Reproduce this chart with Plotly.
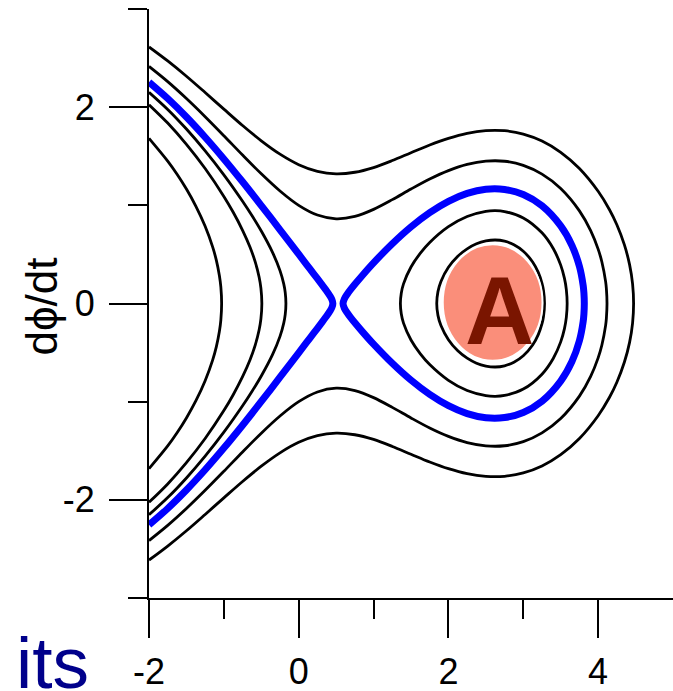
import plotly.graph_objects as go

# Phase portrait of phi'' = sin(phi) - 1/2: upper branches (dphi/dt >= 0) of each orbit.
# The lower branches are the mirror images about dphi/dt = 0.

# Open orbits that come in from the left and turn back before the saddle
PHI_E0 = [-2.0, -1.75, -1.625, -1.5, -1.375, -1.25, -1.15, -1.1, -1.06, -1.04, -1.0297]
V_E0 = [1.683, 1.451, 1.317, 1.166, 0.993, 0.787, 0.577, 0.439, 0.285, 0.166, 0.0]

PHI_E1 = [-2.0, -1.75, -1.5, -1.25, -1.0, -0.875, -0.75, -0.65, -0.58, -0.53, -0.505, -0.4925]
V_E1 = [2.025, 1.838, 1.621, 1.375, 1.091, 0.929, 0.746, 0.573, 0.421, 0.273, 0.157, 0.0]

PHI_E2 = [-2.0, -1.75, -1.5, -1.25, -1.0, -0.75, -0.625, -0.5, -0.35, -0.25, -0.2, -0.18, -0.1709]
V_E2 = [2.152, 1.977, 1.777, 1.555, 1.311, 1.042, 0.896, 0.738, 0.521, 0.335, 0.200, 0.111, 0.0]

# Separatrix: left branch and the loop around the well
PHI_SEP_L = [-2.0, -1.75, -1.5, -1.25, -1.0, -0.75, -0.5, -0.25, 0.0, 0.1, 0.2, 0.3, 0.38, 0.42, 0.445, 0.456]
V_SEP_L = [2.255, 2.088, 1.900, 1.694, 1.473, 1.240, 0.998, 0.751, 0.502, 0.402, 0.302, 0.202, 0.120, 0.074, 0.037, 0.0]

PHI_SEP_R = [0.592, 0.61, 0.65, 0.7, 0.75, 0.85, 1.0, 1.25, 1.5, 1.75, 2.0, 2.25, 2.5, 2.75, 3.0, 3.25, 3.5,
             3.65, 3.75, 3.8, 3.81, 3.815]
V_SEP_R = [0.0, 0.048, 0.097, 0.148, 0.196, 0.286, 0.414, 0.609, 0.781, 0.926, 1.041, 1.122, 1.164, 1.162,
           1.110, 0.995, 0.790, 0.591, 0.378, 0.183, 0.106, 0.0]

# Orbits passing over the saddle and reflecting on the right
PHI_E3 = [-2.0, -1.75, -1.5, -1.25, -1.0, -0.75, -0.5, -0.25, 0.0, 0.25, 0.5, 0.75, 1.0, 1.25, 1.5, 1.75,
          2.0, 2.25, 2.5, 2.75, 3.0, 3.25, 3.5, 3.75, 3.9, 4.0, 4.05, 4.1, 4.11, 4.1184]
V_E3 = [2.415, 2.260, 2.088, 1.903, 1.709, 1.512, 1.321, 1.146, 1.000, 0.901, 0.863, 0.887, 0.959, 1.058,
        1.166, 1.268, 1.354, 1.417, 1.450, 1.449, 1.407, 1.318, 1.172, 0.944, 0.743, 0.554, 0.423, 0.223,
        0.151, 0.0]

PHI_E4 = [-2.0, -1.75, -1.5, -1.25, -1.0, -0.75, -0.5, -0.25, 0.0, 0.25, 0.5, 0.75, 1.0, 1.25, 1.5, 1.75,
          2.0, 2.25, 2.5, 2.75, 3.0, 3.25, 3.5, 3.75, 4.0, 4.15, 4.25, 4.35, 4.42, 4.46, 4.4735]
V_E4 = [2.614, 2.471, 2.315, 2.149, 1.980, 1.813, 1.657, 1.521, 1.414, 1.346, 1.321, 1.337, 1.385, 1.456,
        1.536, 1.615, 1.683, 1.734, 1.761, 1.760, 1.726, 1.655, 1.540, 1.375, 1.143, 0.958, 0.802, 0.599,
        0.396, 0.199, 0.0]

# Closed orbits inside the potential well
PHI_W1 = [1.3584, 1.37, 1.4, 1.5, 1.625, 1.75, 2.0, 2.25, 2.5, 2.625, 2.75, 3.0, 3.25, 3.4, 3.5, 3.55,
          3.575, 3.586]
V_W1 = [0.0, 0.105, 0.200, 0.372, 0.513, 0.622, 0.783, 0.887, 0.939, 0.946, 0.937, 0.872, 0.720, 0.560,
        0.391, 0.256, 0.142, 0.0]

PHI_W2 = [1.8438, 1.86, 1.9, 2.0, 2.125, 2.25, 2.375, 2.5, 2.625, 2.75, 2.875, 3.0, 3.125, 3.2, 3.25, 3.27,
          3.2838]
V_W2 = [0.0, 0.121, 0.225, 0.369, 0.482, 0.557, 0.608, 0.637, 0.647, 0.635, 0.599, 0.533, 0.423, 0.317,
        0.206, 0.132, 0.0]

X_TICKS = [-2, 0, 2, 4]
X_TICK_TEXT = ["-2", "0", "2", "4"]
X_MINOR = [-1, 1, 3]
Y_TICKS = [-2, 0, 2]
Y_TICK_TEXT = ["-2", "0", "2"]
Y_MINOR = [-3, -1, 1, 3]

FONT = "Liberation Sans, Arial, sans-serif"


def open_path(phi, v):
    """Upper branch out to the turning point, then the mirrored lower branch back."""
    xs = list(phi) + list(phi[-2::-1])
    ys = list(v) + [-val for val in v[-2::-1]]
    return xs, ys


def closed_path(phi, v):
    """Closed loop, started mid-way along the upper branch so the seam is smooth."""
    pts = list(zip(phi, v)) + [(p, -val) for p, val in zip(phi[-2:0:-1], v[-2:0:-1])]
    k = len(phi) // 2
    pts = pts[k:] + pts[:k] + [pts[k]]
    return [p for p, _ in pts], [val for _, val in pts]


BLACK = dict(color="black", width=2.8, shape="spline", smoothing=0.9)
BLUE = dict(color="#0000ff", width=7, shape="spline", smoothing=0.9)

fig = go.Figure()
for phi, v in [(PHI_E0, V_E0), (PHI_E1, V_E1), (PHI_E2, V_E2), (PHI_E3, V_E3), (PHI_E4, V_E4)]:
    xs, ys = open_path(phi, v)
    fig.add_trace(go.Scatter(x=xs, y=ys, mode="lines", line=BLACK, hoverinfo="skip"))
for phi, v in [(PHI_W1, V_W1), (PHI_W2, V_W2)]:
    xs, ys = closed_path(phi, v)
    fig.add_trace(go.Scatter(x=xs, y=ys, mode="lines", line=BLACK, hoverinfo="skip"))

xs, ys = open_path(PHI_SEP_L, V_SEP_L)
fig.add_trace(go.Scatter(x=xs, y=ys, mode="lines", line=BLUE, hoverinfo="skip"))
xs, ys = closed_path(PHI_SEP_R, V_SEP_R)
fig.add_trace(go.Scatter(x=xs, y=ys, mode="lines", line=BLUE, hoverinfo="skip"))

# Marker for the stable centre of the well
fig.add_shape(type="circle", xref="x", yref="y", x0=1.924, x1=3.257, y0=-0.584, y1=0.603,
              fillcolor="#fa8e7a", line=dict(color="white", width=2), layer="above")
fig.add_annotation(x=2.68, y=-0.07, xref="x", yref="y", text="<b>A</b>", showarrow=False,
                   font=dict(family=FONT, size=96, color="#7a1500"),
                   xanchor="center", yanchor="middle")

# Vertical axis title
fig.add_annotation(x=-0.206, y=0.495, xref="paper", yref="paper", text="dϕ/dt", showarrow=False,
                   textangle=-90, font=dict(family=FONT, size=44, color="black"),
                   xanchor="center", yanchor="middle")

fig.add_annotation(x=-0.258, y=-0.181, xref="paper", yref="paper", text="its", showarrow=False,
                   font=dict(family=FONT, size=73, color="#00008b"),
                   xanchor="left", yanchor="bottom")

axis_common = dict(showgrid=False, zeroline=False, showline=True, linecolor="black", linewidth=2,
                   ticks="outside", ticklen=38, tickwidth=2, tickcolor="black", automargin=False,
                   tickfont=dict(family=FONT, size=36, color="black"))

fig.update_xaxes(range=[-2, 5], tickvals=X_TICKS, ticktext=X_TICK_TEXT,
                 minor=dict(ticks="outside", ticklen=19, tickwidth=2, tickcolor="black", tickvals=X_MINOR),
                 ticklabelstandoff=3, **axis_common)
fig.update_yaxes(range=[-3, 3], tickvals=Y_TICKS, ticktext=Y_TICK_TEXT,
                 minor=dict(ticks="outside", ticklen=19, tickwidth=2, tickcolor="black", tickvals=Y_MINOR),
                 ticklabelstandoff=7, **axis_common)

fig.update_layout(width=673, height=691, margin=dict(l=149, r=0, t=9, b=93),
                  plot_bgcolor="white", paper_bgcolor="white", showlegend=False)

fig.write_html("out.html")
